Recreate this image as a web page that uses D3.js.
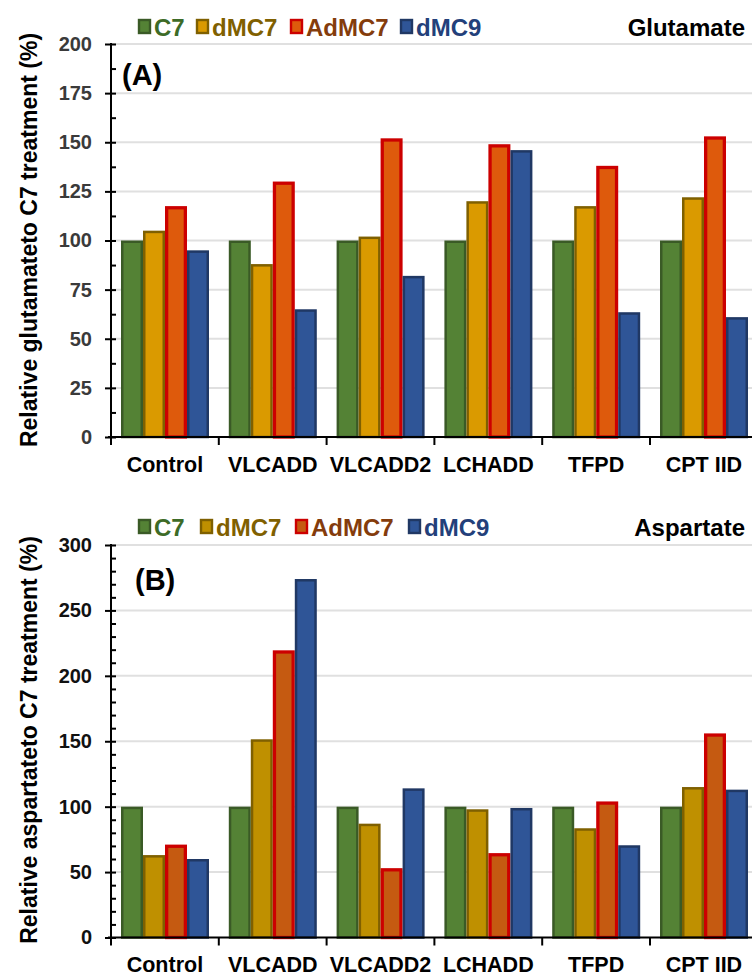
<!DOCTYPE html>
<html>
<head>
<meta charset="utf-8">
<script src="https://cdn.jsdelivr.net/npm/d3@7"></script>
<style>
  html, body { margin: 0; padding: 0; background: #fff; }
  svg { display: block; font-family: "Liberation Sans", Arial, Helvetica, sans-serif; }
</style>
</head>
<body>
<svg id="chart" width="752" height="977"></svg>
<script>
// ---------- data ----------
const categories = ["Control", "VLCADD", "VLCADD2", "LCHADD", "TFPD", "CPT IID"];
const series = ["C7", "dMC7", "AdMC7", "dMC9"];

const glutC7    = [100, 100, 100, 100, 100, 100];
const glutDMC7  = [105, 88, 102, 120, 117.5, 122];
const glutAdMC7 = [117.5, 130, 152, 149, 138, 153];
const glutDMC9  = [95, 65, 82, 146, 63.5, 61];

const aspC7    = [100, 100, 100, 100, 100, 100];
const aspDMC7  = [63, 151.5, 87, 98, 83.5, 115];
const aspAdMC7 = [71, 219.5, 53, 64.5, 104, 156];
const aspDMC9  = [60, 274, 114, 99, 70.5, 113];

const glutTicks = [0, 25, 50, 75, 100, 125, 150, 175, 200];
const aspTicks  = [0, 50, 100, 150, 200, 250, 300];

// ---------- styles ----------
const fillA   = {C7: "#548235", dMC7: "#da9a00", AdMC7: "#de5a0c", dMC9: "#2f5597"};
const fillB   = {C7: "#548235", dMC7: "#bf9000", AdMC7: "#c55a11", dMC9: "#2f5597"};
const strokeC = {C7: "#3a5a26", dMC7: "#7f6000", AdMC7: "#cc0000", dMC9: "#203864"};
const strokeW = {C7: 2.5, dMC7: 2.5, AdMC7: 3.3, dMC9: 2.5};
const legendText = {C7: "#3d6b27", dMC7: "#806000", AdMC7: "#843c0c", dMC9: "#23407a"};

const svg = d3.select("#chart");

function panel(opts) {
  const g = svg.append("g");
  const x0 = d3.scaleBand().domain(categories).range([111, 111 + 6 * 107.8]).padding(0);
  const x1 = d3.scaleBand().domain(series).range([10, 98]).padding(0);
  const y = d3.scaleLinear().domain([0, opts.max]).range([opts.y0, opts.yTop]);

  // gridlines
  g.append("g").selectAll("line").data(opts.ticks.filter(t => t > 0)).join("line")
    .attr("x1", 112).attr("x2", 752)
    .attr("y1", d => y(d)).attr("y2", d => y(d))
    .attr("stroke", "#e0e0e0").attr("stroke-width", 2);

  // bars
  const rows = categories.map((c, i) => ({cat: c, vals: series.map((s, j) => ({s, v: opts.data[j][i]}))}));
  const grp = g.append("g").selectAll("g").data(rows).join("g")
    .attr("transform", d => `translate(${x0(d.cat)},0)`);
  grp.selectAll("rect").data(d => d.vals).join("rect")
    .attr("x", d => x1(d.s) + strokeW[d.s] / 2)
    .attr("width", d => x1.bandwidth() - strokeW[d.s])
    .attr("y", d => y(d.v) + strokeW[d.s] / 2)
    .attr("height", d => y(0) - y(d.v) - strokeW[d.s] / 2)
    .attr("fill", d => opts.fill[d.s])
    .attr("stroke", d => strokeC[d.s])
    .attr("stroke-width", d => strokeW[d.s]);

  // y axis: major ticks (crossing) and minor ticks
  const yAxis = d3.axisLeft(y).tickValues(opts.ticks).tickSize(6).tickPadding(13);
  const ya = g.append("g").attr("transform", "translate(111,0)").call(yAxis);
  ya.select(".domain").remove();
  ya.selectAll(".tick line").attr("x2", -6).attr("x1", 5).attr("stroke", "#000").attr("stroke-width", 2);
  ya.selectAll(".tick text").attr("font-size", 20).attr("font-weight", "bold").attr("fill", opts.tickColor);
  const minor = d3.range(0, opts.max + 0.001, opts.minorStep).filter(v => !opts.ticks.includes(v));
  const minorAxis = d3.axisRight(y).tickValues(minor).tickSize(5).tickFormat("");
  const ma = g.append("g").attr("transform", "translate(111,0)").call(minorAxis);
  ma.select(".domain").remove();
  ma.selectAll(".tick line").attr("stroke", "#000").attr("stroke-width", 2);
  g.append("line").attr("x1", 111).attr("x2", 111).attr("y1", y(opts.max) - 1).attr("y2", y(0) + 1)
    .attr("stroke", "#000").attr("stroke-width", 2);

  // x axis
  const xAxis = d3.axisBottom(x0).tickSize(0).tickPadding(19.5);
  const xa = g.append("g").attr("transform", `translate(0,${y(0)})`).call(xAxis);
  xa.select(".domain").remove();
  xa.selectAll(".tick text").attr("font-size", 21.5).attr("font-weight", "bold").attr("fill", "#000");
  g.append("line").attr("x1", 108).attr("x2", 752).attr("y1", y(0)).attr("y2", y(0))
    .attr("stroke", "#000").attr("stroke-width", 2.2);
  g.append("g").selectAll("line").data(categories).join("line")
    .attr("x1", d => x0(d)).attr("x2", d => x0(d))
    .attr("y1", y(0)).attr("y2", y(0) + 8)
    .attr("stroke", "#000").attr("stroke-width", 2);

  // axis title
  g.append("text")
    .attr("transform", `translate(37,${opts.titleY}) rotate(-90)`)
    .attr("text-anchor", "middle")
    .attr("font-size", 23).attr("font-weight", "bold").attr("fill", "#000")
    .text(opts.yTitle);

  // panel label
  g.append("text").attr("x", opts.labelX).attr("y", opts.labelY)
    .attr("font-size", 29).attr("font-weight", "bold").attr("fill", "#000")
    .text(opts.label);

  // legend
  const lg = g.append("g");
  opts.legendX.forEach((lx, i) => {
    const s = series[i];
    lg.append("rect").attr("x", lx).attr("y", opts.legendY - 16).attr("width", 11).attr("height", 13)
      .attr("fill", opts.fill[s]).attr("stroke", s === "AdMC7" ? "#cc0000" : strokeC[s]).attr("stroke-width", 2.4);
    lg.append("text").attr("x", lx + 15).attr("y", opts.legendY)
      .attr("font-size", 24).attr("font-weight", "bold").attr("fill", legendText[s])
      .text(s);
  });
  g.append("text").attr("x", 745).attr("y", opts.legendY).attr("text-anchor", "end")
    .attr("font-size", 24).attr("font-weight", "bold").attr("fill", "#000").text(opts.name);
}

panel({
  data: [glutC7, glutDMC7, glutAdMC7, glutDMC9],
  fill: fillA, max: 200, ticks: glutTicks, minorStep: 12.5,
  y0: 437, yTop: 44, tickColor: "#3a3a3a",
  yTitle: "Relative glutamateto C7 treatment (%)", titleY: 240,
  label: "(A)", labelX: 122, labelY: 85,
  legendX: [139, 197, 291, 401], legendY: 36, name: "Glutamate"
});

panel({
  data: [aspC7, aspDMC7, aspAdMC7, aspDMC9],
  fill: fillB, max: 300, ticks: aspTicks, minorStep: 10,
  y0: 937.5, yTop: 545, tickColor: "#111",
  yTitle: "Relative aspartateto C7 treatment (%)", titleY: 740,
  label: "(B)", labelX: 135, labelY: 590,
  legendX: [139, 201, 296, 409], legendY: 536, name: "Aspartate"
});
</script>
</body>
</html>
